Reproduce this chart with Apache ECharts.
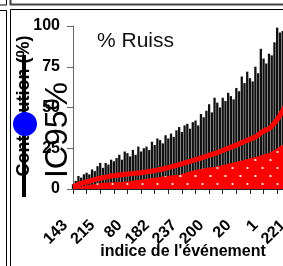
<!DOCTYPE html>
<html>
<head>
<meta charset="utf-8">
<script src="https://cdn.jsdelivr.net/npm/echarts@6/dist/echarts.min.js"></script>
<style>
  html, body { margin: 0; padding: 0; background: #fff; }
  #chart { width: 283px; height: 266px; }
</style>
</head>
<body>
<div id="chart"></div>
<script>
// events sorted by rank; only the labelled ranks (every 10th) are known
const tickLabels = ["143", "215", "80", "182", "237", "200", "20", "1", "221"];

// upper bound of the 95% interval, one value per ranked event
const upper = [
  3, 5, 8, 7, 9, 10, 9, 12, 11, 14,
  16, 13, 16, 15, 18, 17, 19, 21, 18, 23,
  22, 20, 24, 21, 26, 23, 25, 26, 24, 29,
  27, 31, 30, 28, 33, 31, 34, 32, 36, 38,
  35, 39, 40, 37, 41, 42, 39, 46, 44, 48,
  52, 47, 56, 53, 50, 56, 54, 59, 57, 55,
  62, 60, 69, 65, 72, 68, 66, 75, 71, 86,
  80, 77, 83, 82, 90, 99, 96, 97, 94, 98, 100
];

// % Ruiss (red line)
const ruiss = [
  1.5, 2, 2.8, 3.4, 3.9, 4.3, 4.8, 5.3, 5.8, 6.3,
  6.6, 6.9, 7.3, 7.6, 8, 8.2, 8.4, 8.6, 8.8, 9,
  9.2, 9.3, 9.5, 9.6, 9.8, 10, 10.3, 10.5, 10.8, 11,
  11.3, 11.6, 12, 12.3, 12.7, 13.1, 13.6, 14, 14.5, 15,
  15.5, 16, 16.5, 17, 17.5, 18, 18.5, 19, 19.6, 20.1,
  20.7, 21.2, 21.7, 22.3, 23, 23.6, 24.3, 25, 25.7, 26.3,
  27, 27.7, 28.4, 29.1, 29.8, 30.5, 31.2, 32, 33, 34.5,
  35.5, 36.3, 37, 38.5, 40.5, 42.5, 45, 48, 51, 54, 57
];

// lower part (red dotted area)
const lower = [
  0.8, 1, 1.3, 1.6, 1.9, 2.2, 2.5, 2.8, 3.1, 3.5,
  3.7, 3.8, 3.9, 4, 4.1, 4.2, 4.2, 4.3, 4.3, 4.4,
  4.6, 4.8, 5, 5.3, 5.5, 5.8, 6, 6.2, 6.5, 6.7,
  6.9, 7.1, 7.4, 7.6, 7.8, 8, 8.3, 8.5, 8.6, 8.8,
  9.2, 9.7, 10.2, 10.7, 11.2, 11.7, 12, 12.3, 12.6, 12.9,
  13.2, 13.4, 13.5, 13.9, 14.3, 14.7, 15.1, 15.5, 15.8, 16.2,
  16.6, 17, 17.4, 17.9, 18.3, 18.8, 19.2, 19.6, 20.1, 20.6,
  21.1, 21.6, 22, 23, 24, 25, 26, 27, 28.5, 30, 31.5
];

const FONT = "Liberation Sans, Arial, sans-serif";

// red fill with white dots
const tile = document.createElement("canvas");
tile.width = 15;
tile.height = 16;
const tc = tile.getContext("2d");
tc.fillStyle = "#ff0000";
tc.fillRect(0, 0, 15, 16);
tc.fillStyle = "#ffffff";
[[7.5, 8], [0.5, 0], [15.5, 0], [0.5, 16], [15.5, 16]].forEach(p => {
  tc.beginPath();
  tc.arc(p[0], p[1], 1.1, 0, Math.PI * 2);
  tc.fill();
});

const myChart = echarts.init(document.getElementById("chart"));

const frame = { stroke: "#000", lineWidth: 1, fill: null };

myChart.setOption({
  animation: false,
  grid: { left: 73, top: 26, height: 163, width: 245, outerBoundsMode: "none" },
  xAxis: {
    type: "value",
    min: 0,
    max: 90,
    interval: 5,
    splitLine: { show: false },
    axisLine: { lineStyle: { color: "#222" } },
    axisTick: { length: 5, lineStyle: { color: "#222" } },
    axisLabel: {
      rotate: 45,
      margin: 26,
      padding: [0, 11, 0, 0],
      color: "#000",
      fontWeight: "bold",
      fontSize: 16,
      fontFamily: FONT,
      formatter: v => (v % 10 === 0 ? tickLabels[v / 10] || "" : "")
    }
  },
  yAxis: {
    type: "value",
    min: 0,
    max: 100,
    interval: 25,
    splitLine: { show: false },
    axisLine: { show: true, lineStyle: { color: "#666" } },
    axisTick: { show: true, length: 6, lineStyle: { color: "#666" } },
    axisLabel: {
      margin: 13,
      color: "#000",
      fontWeight: "bold",
      fontSize: 16,
      fontFamily: FONT
    }
  },
  series: [
    {
      type: "bar",
      barWidth: 2.3,
      itemStyle: { color: "#111" },
      data: upper.map((v, i) => [i, v]),
      z: 2
    },
    {
      type: "line",
      showSymbol: false,
      lineStyle: { width: 0 },
      areaStyle: { color: { image: tile, repeat: "repeat" }, opacity: 1 },
      data: lower.map((v, i) => [i, v]),
      z: 3
    },
    {
      type: "line",
      showSymbol: false,
      lineStyle: { color: "#ff0000", width: 5 },
      data: ruiss.map((v, i) => [i, v]),
      z: 4
    }
  ],
  graphic: [
    { type: "polyline", z: 100, shape: { points: [[0, 5], [6.5, 5], [6.5, 0]] }, style: frame },
    { type: "polyline", z: 100, shape: { points: [[10.5, 0], [10.5, 4.5], [283, 4.5]] }, style: { stroke: "#444", lineWidth: 2, fill: null } },
    { type: "polyline", z: 100, shape: { points: [[0, 10.5], [6.5, 10.5], [6.5, 266]] }, style: frame },
    { type: "polyline", z: 100, shape: { points: [[10.5, 266], [10.5, 9.5], [283, 9.5]] }, style: frame },
    {
      type: "text", z: 100, x: 97, y: 41,
      style: { text: "% Ruiss", font: "21px " + FONT, fill: "#111", verticalAlign: "middle" }
    },
    {
      type: "text", z: 100, x: 183, y: 252,
      style: { text: "indice de l'événement", font: "bold 16px " + FONT, fill: "#000", align: "center", verticalAlign: "middle" }
    },
    {
      type: "text", z: 100, x: 24, y: 106, rotation: Math.PI / 2,
      style: { text: "Contribution (%)", font: "bold 18px " + FONT, fill: "#000", align: "center", verticalAlign: "middle" }
    },
    {
      type: "text", z: 100, x: 58, y: 130, rotation: Math.PI / 2,
      style: { text: "IC95%", font: "32px " + FONT, fill: "#000", align: "center", verticalAlign: "middle" }
    },
    { type: "line", z: 101, shape: { x1: 24, y1: 55, x2: 24, y2: 197 }, style: { stroke: "#000", lineWidth: 4 } },
    { type: "circle", z: 102, shape: { cx: 25, cy: 124, r: 12 }, style: { fill: "#0000ff" } }
  ]
});
</script>
</body>
</html>
